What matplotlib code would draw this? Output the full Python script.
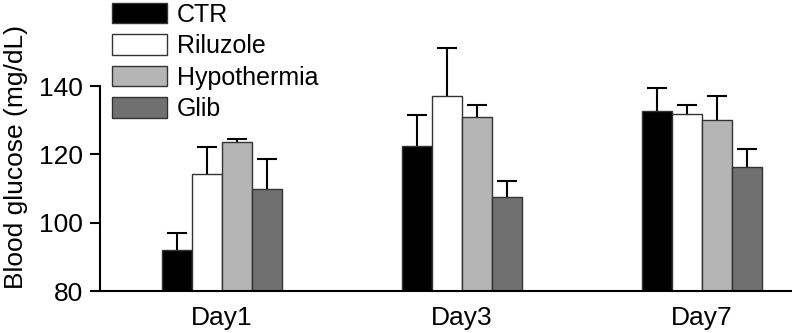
import matplotlib
matplotlib.use("Agg")
import matplotlib.pyplot as plt
import numpy as np
from matplotlib.patches import Patch

plt.rcParams['font.family'] = ['Liberation Sans', 'DejaVu Sans']

days = ["Day1", "Day3", "Day7"]
groups = ["CTR", "Riluzole", "Hypothermia", "Glib"]
means = {
    "CTR":         [92.0, 122.4, 132.7],
    "Riluzole":    [114.2, 137.1, 131.9],
    "Hypothermia": [123.5, 130.8, 130.1],
    "Glib":        [109.8, 107.6, 116.2],
}
errs = {
    "CTR":         [5.1, 9.1, 6.7],
    "Riluzole":    [8.0, 14.0, 2.4],
    "Hypothermia": [1.0, 3.7, 6.9],
    "Glib":        [8.7, 4.7, 5.3],
}
colors = {"CTR": "#000000", "Riluzole": "#ffffff", "Hypothermia": "#b5b5b5", "Glib": "#707070"}
yticks = [80, 100, 120, 140]

fig = plt.figure(figsize=(7.92, 3.33), dpi=100)
ax = fig.add_axes([0.1263, 0.1261, 0.8737, 0.6156])

x = np.arange(len(days))
w = 0.125
for i, g in enumerate(groups):
    pos = x + (i - 1.5) * w
    ax.bar(pos, np.array(means[g]) - 80, width=w, bottom=80, color=colors[g],
           edgecolor="#333333", linewidth=1.0, zorder=2)
    eb = ax.errorbar(pos, means[g], yerr=[np.zeros(3), errs[g]], fmt="none",
                     ecolor="black", elinewidth=1.5, capsize=7.5, capthick=1.5,
                     clip_on=False, zorder=1)
    caps = eb[1]
    if len(caps) == 2:
        caps[0].set_visible(False)

ax.set_ylim(80, 140)
ax.set_xlim(-0.508, 2.375)
ax.set_yticks(yticks)
ax.set_yticklabels([str(t) for t in yticks], fontsize=19)
ax.set_xticks(x)
ax.set_xticklabels(days, fontsize=19)
ax.tick_params(axis='x', length=0, pad=11)
ax.tick_params(axis='y', length=7.5, width=1.5, direction='out', pad=5)
for s in ["top", "right"]:
    ax.spines[s].set_visible(False)
for s in ["left", "bottom"]:
    ax.spines[s].set_linewidth(1.5)

fig.text(16 / 792, 1 - 157 / 333, "Blood glucose (mg/dL)", rotation=90,
         ha="center", va="center", fontsize=19)

handles = [Patch(facecolor=colors[g], edgecolor="#333333", linewidth=1.0) for g in groups]
leg = fig.legend(handles, groups, loc="upper left", bbox_to_anchor=(0.119, 1.045),
                 frameon=False, fontsize=18, handlelength=2.2, handleheight=0.9,
                 handletextpad=0.4, labelspacing=0.3, borderpad=0.2)

fig.savefig("out.png", dpi=100)
